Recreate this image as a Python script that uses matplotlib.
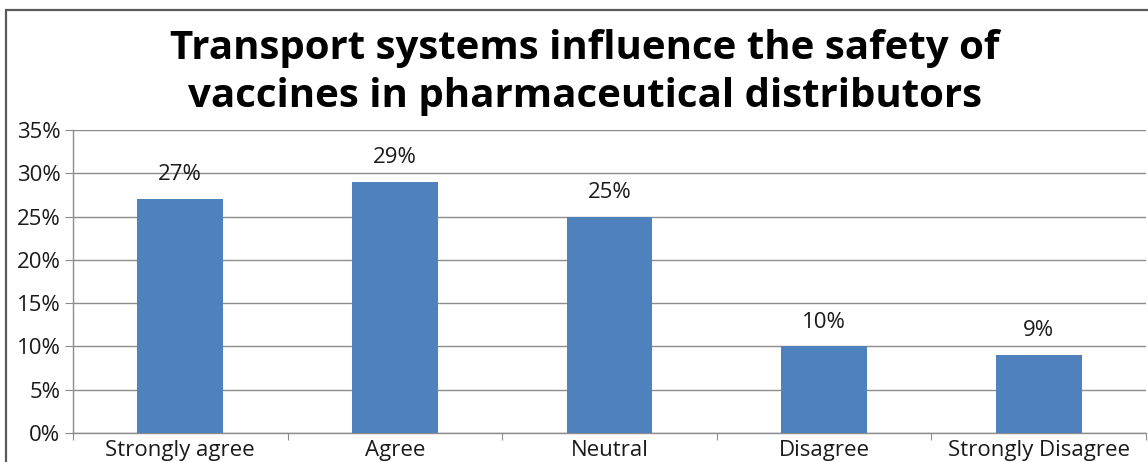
import matplotlib
matplotlib.use("Agg")
import matplotlib.pyplot as plt
from matplotlib.patches import Rectangle
from matplotlib.ticker import MultipleLocator, FuncFormatter

categories = ["Strongly agree", "Agree", "Neutral", "Disagree", "Strongly Disagree"]
values = [27, 29, 25, 10, 9]
title = "Transport systems influence the safety of\nvaccines in pharmaceutical distributors"

plt.rcParams["font.family"] = ["Open Sans", "DejaVu Sans"]

W, H = 1148, 462
fig = plt.figure(figsize=(W / 100, H / 100), dpi=100)
fig.patch.set_facecolor("white")

# outer chart frame
fig.patches.append(Rectangle((6 / W, -0.1), 1.2, 1 - 10 / H + 0.1, transform=fig.transFigure,
                             fill=False, edgecolor="#5a5a5a", linewidth=1.6, zorder=0))

ax = fig.add_axes([73 / W, 1 - 433 / H, (1146 - 73) / W, (433 - 130) / H])
x = range(len(categories))
bars = ax.bar(x, values, width=0.4, color="#4F81BD", zorder=3)

ax.set_xlim(-0.5, len(categories) - 0.5)
ax.set_ylim(0, 35)
ax.yaxis.set_major_locator(MultipleLocator(5))
ax.yaxis.set_major_formatter(FuncFormatter(lambda v, p: f"{v:.0f}%"))
ax.grid(axis="y", color="#8c8c8c", linewidth=1.0, zorder=0)

ax.set_xticks([i + 0.5 for i in range(-1, len(categories))], minor=False)
ax.set_xticklabels([])
ax.set_xticks(list(x), minor=True)
ax.set_xticklabels(categories, minor=True, fontsize=16, color="#1a1a1a")
ax.tick_params(axis="x", which="minor", length=0, pad=5)
ax.tick_params(axis="x", which="major", length=5, color="#8c8c8c", direction="out")
ax.tick_params(axis="y", length=6, color="#8c8c8c", labelsize=16, pad=3,
               labelcolor="#1a1a1a")

for side in ["top", "right"]:
    ax.spines[side].set_visible(False)
for side in ["left", "bottom"]:
    ax.spines[side].set_color("#8c8c8c")
    ax.spines[side].set_linewidth(1.0)

for b, v in zip(bars, values):
    ax.annotate(f"{v}%", (b.get_x() + b.get_width() / 2, v), xytext=(0, 10),
                textcoords="offset points", ha="center", va="bottom", fontsize=16,
                color="#1a1a1a")

fig.text(585 / W, 1 - 72 / H, title, ha="center", va="center", fontsize=29,
         fontweight="bold", linespacing=1.3, color="black")

fig.savefig("out.png", dpi=100)
